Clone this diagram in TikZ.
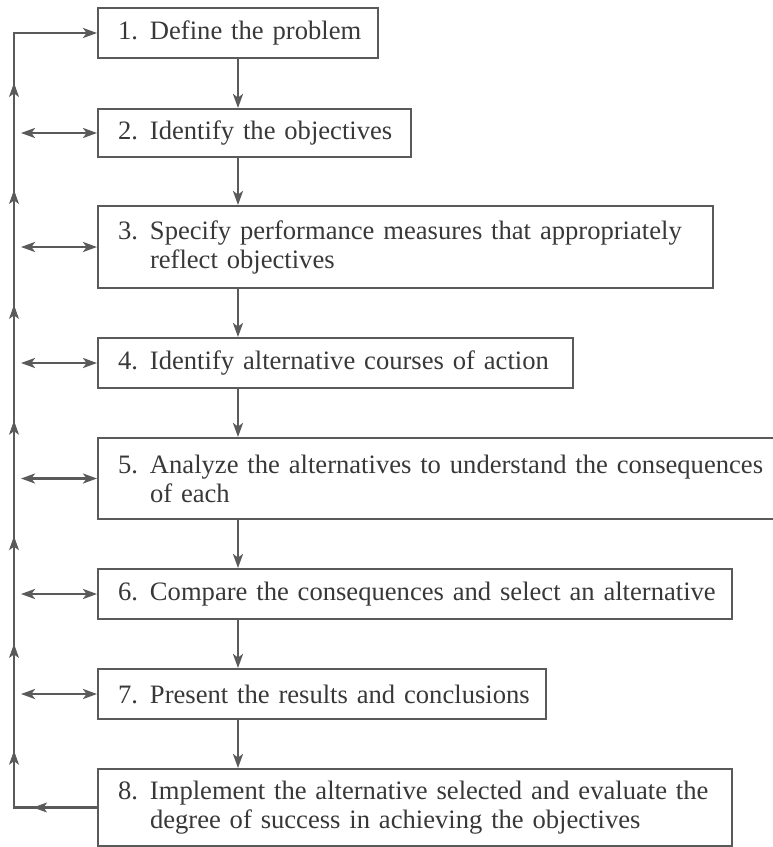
\documentclass[tikz,border=0pt]{standalone}
\usepackage{fontspec}
\setmainfont{Liberation Serif}
\usetikzlibrary{arrows.meta,decorations.markings}

\definecolor{inkline}{HTML}{5A5A5A}
\definecolor{inktext}{HTML}{383838}
\newcommand{\stepno}[1]{\hspace*{6pt}\makebox[16pt][l]{#1.}}
\newcommand{\stepcont}{\hspace*{22pt}}

\tikzset{flowtip/.tip={Stealth[length=7pt,width=5pt,inset=1.8pt]}}

\begin{document}
\begin{tikzpicture}[x=0.5pt,y=-0.5pt,
  stepbox/.style={draw=inkline, line width=1pt, anchor=north west, align=left,
    inner xsep=4pt, inner ysep=0pt, text=inktext,
    font=\fontsize{13.3pt}{14.5pt}\selectfont},
  flow/.style={draw=inkline, line width=1.2pt, -flowtip},
  twoway/.style={draw=inkline, line width=1.2pt, flowtip-flowtip, shorten <=3.5pt},
  midtip/.style={inkline, postaction=decorate,
    decoration={markings, mark=at position #1 with {\arrow{flowtip}}}}]
\useasboundingbox (0,0) rectangle (772,847);
\coordinate (rail) at (14,0);
\coordinate (spine) at (238,0);
\node[stepbox, text width=132pt, minimum height=25pt] (b1) at (97,7) {\stepno{1}Define the problem};
\node[stepbox, text width=148.5pt, minimum height=24pt] (b2) at (97,108) {\stepno{2}Identify the objectives};
\node[stepbox, text width=299.5pt, minimum height=41pt] (b3) at (97,205) {\stepno{3}Specify performance measures that appropriately\\\stepcont reflect objectives};
\node[stepbox, text width=229.5pt, minimum height=25pt] (b4) at (97,337) {\stepno{4}Identify alternative courses of action};
\node[stepbox, text width=352pt, minimum height=40.5pt] (b5) at (97,437) {\stepno{5}Analyze the alternatives to understand the consequences\\\stepcont of each};
\node[stepbox, text width=309pt, minimum height=25pt] (b6) at (97,568) {\stepno{6}Compare the consequences and select an alternative};
\node[stepbox, text width=216pt, minimum height=25pt] (b7) at (97,668) {\stepno{7}Present the results and conclusions};
\node[stepbox, text width=309pt, minimum height=38.5pt] (b8) at (97,768) {\stepno{8}Implement the alternative selected and evaluate the\\\stepcont degree of success in achieving the objectives};
% main sequence
\draw[flow] (b1.south -| spine) -- (b2.north -| spine);
\draw[flow] (b2.south -| spine) -- (b3.north -| spine);
\draw[flow] (b3.south -| spine) -- (b4.north -| spine);
\draw[flow] (b4.south -| spine) -- (b5.north -| spine);
\draw[flow] (b5.south -| spine) -- (b6.north -| spine);
\draw[flow] (b6.south -| spine) -- (b7.north -| spine);
\draw[flow] (b7.south -| spine) -- (b8.north -| spine);
% feedback loop
\draw[flow] (b8.west) -- (b8.west -| rail) -- (b1.west -| rail) -- (b1.west);
\path[midtip=0.77] (b8.west) -- (b8.west -| rail);
\path[midtip=0.5] (b8.west -| rail) -- (b7.west -| rail);
\path[midtip=0.5] (b7.west -| rail) -- (b6.west -| rail);
\path[midtip=0.5] (b6.west -| rail) -- (b5.west -| rail);
\path[midtip=0.5] (b5.west -| rail) -- (b4.west -| rail);
\path[midtip=0.5] (b4.west -| rail) -- (b3.west -| rail);
\path[midtip=0.5] (b3.west -| rail) -- (b2.west -| rail);
\path[midtip=0.5] (b2.west -| rail) -- (b1.west -| rail);
\draw[twoway] (b2.west -| rail) -- (b2.west);
\draw[twoway] (b3.west -| rail) -- (b3.west);
\draw[twoway] (b4.west -| rail) -- (b4.west);
\draw[twoway] (b5.west -| rail) -- (b5.west);
\draw[twoway] (b6.west -| rail) -- (b6.west);
\draw[twoway] (b7.west -| rail) -- (b7.west);
\end{tikzpicture}
\end{document}
